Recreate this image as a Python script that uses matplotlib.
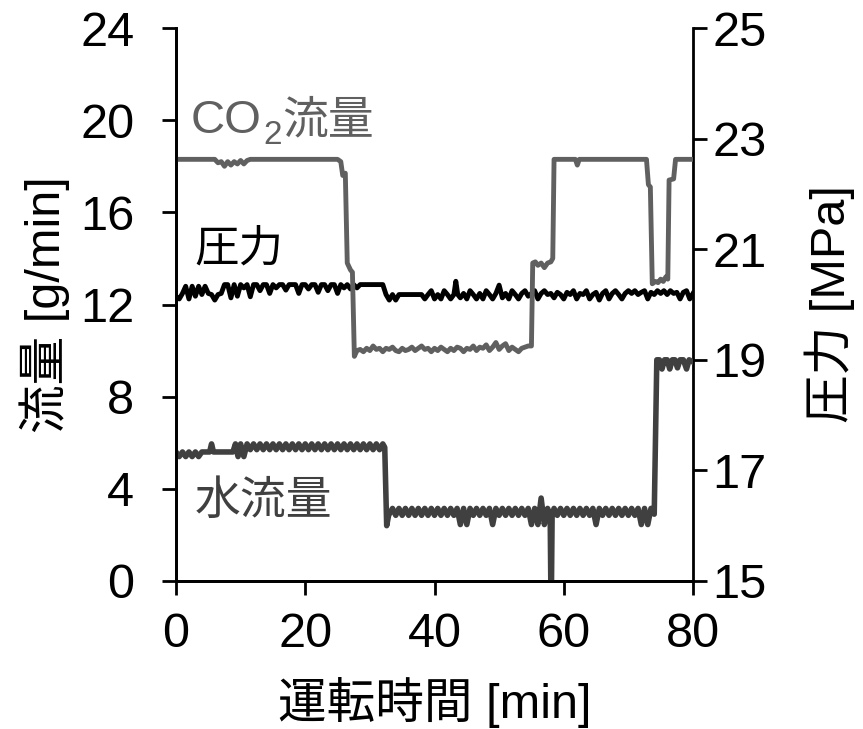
import numpy as np
import matplotlib
matplotlib.use("Agg")
import matplotlib.pyplot as plt

plt.rcParams['font.family'] = ['Liberation Sans', 'Noto Sans CJK JP']

# ---- data (time [min], value) ----
co2_points = [
    [0, 18.3], [6, 18.3], [6.5, 18.15], [7, 18.2], [7.5, 18.0], [8, 18.2], [8.5, 18.05],
    [9, 18.2], [9.5, 18.1], [10, 18.25], [10.5, 18.1], [11, 18.25], [11.5, 18.3],
    [25.0, 18.3], [25.5, 18.2], [25.8, 17.6], [26.2, 17.7], [26.5, 13.8], [27.0, 13.5],
    [27.3, 13.4], [27.6, 9.75],
    [28.0, 10.0], [28.5, 10.05], [29.0, 9.95], [29.5, 10.1], [30.0, 10.0], [30.5, 10.2],
    [31.0, 10.05], [31.5, 10.1], [32.0, 9.95], [32.5, 10.1], [33.0, 10.05], [33.5, 10.15],
    [34.0, 10.0], [34.5, 9.95], [35.0, 10.1], [35.5, 10.0], [36.0, 10.05], [36.5, 10.15],
    [37.0, 10.0], [37.5, 10.1], [38.0, 10.2], [38.5, 10.05], [39.0, 10.1], [39.5, 9.95],
    [40.0, 10.1], [40.5, 10.0], [41.0, 10.15], [41.5, 10.05], [42.0, 9.95], [42.5, 10.1],
    [43.0, 10.0], [43.5, 10.15], [44.0, 10.1], [44.5, 9.95], [45.0, 10.1], [45.5, 10.05],
    [46.0, 10.2], [46.5, 10.0], [47.0, 10.15], [47.5, 10.1], [48.0, 10.25], [48.5, 10.0],
    [49.0, 10.15], [49.5, 10.35], [50.0, 10.05], [50.5, 10.2], [51.0, 10.3], [51.5, 10.0],
    [52.0, 10.15], [52.5, 10.05], [53.0, 9.95], [53.5, 10.1], [54.0, 10.15], [54.5, 10.2],
    [55.0, 10.2], [55.2, 13.8], [55.6, 13.85], [56.0, 13.7], [56.5, 13.8], [57.0, 13.6],
    [57.5, 13.8], [58.0, 13.85], [58.3, 14.0], [58.5, 18.3], [61.8, 18.3], [62.1, 18.05],
    [62.4, 18.3], [72.8, 18.3], [73.1, 17.2], [73.4, 17.1], [73.7, 12.9], [74.2, 13.0],
    [74.6, 12.95], [75.0, 13.1], [75.4, 13.0], [75.8, 13.2], [76.1, 13.1], [76.3, 17.4],
    [77.0, 17.45], [77.3, 18.3], [80, 18.3],
]

water_points = [
    [0, 5.6], [0.5, 5.4], [1, 5.6], [1.5, 5.4], [2, 5.6], [2.5, 5.4], [3, 5.6], [3.5, 5.4],
    [4, 5.6], [5.2, 5.6], [5.5, 5.95], [5.8, 5.6], [8.8, 5.6], [9.2, 5.95], [9.6, 5.4],
    [10.0, 5.95], [10.5, 5.4], [11.0, 5.95], [11.5, 5.7], [12, 5.95], [12.5, 5.7],
    [13, 5.95], [13.5, 5.7], [14, 5.95], [14.5, 5.7], [15, 5.95], [15.5, 5.7], [16, 5.95],
    [16.5, 5.7], [17, 5.95], [17.5, 5.7], [18, 5.95], [18.5, 5.7], [19, 5.95], [19.5, 5.7],
    [20, 5.95], [20.5, 5.7], [21, 5.95], [21.5, 5.7], [22, 5.95], [22.5, 5.7], [23, 5.95],
    [23.5, 5.7], [24, 5.95], [24.5, 5.7], [25, 5.95], [25.5, 5.7], [26, 5.95], [26.5, 5.7],
    [27, 5.95], [27.5, 5.7], [28, 5.95], [28.5, 5.7], [29, 5.95], [29.5, 5.7], [30, 5.95],
    [30.5, 5.7], [31, 5.95], [31.5, 5.7], [32.0, 5.95], [32.3, 5.8], [32.6, 2.4],
    [32.9, 2.85], [33.5, 3.15], [34, 2.85], [34.5, 3.15], [35, 2.85], [35.5, 3.15],
    [36, 2.85], [36.5, 3.15], [37, 2.85], [37.5, 3.15], [38, 2.85], [38.5, 3.15],
    [39, 2.85], [39.5, 3.15], [40, 2.85], [40.5, 3.15], [41, 2.85], [41.5, 3.15],
    [42, 2.85], [42.5, 3.15], [43, 2.85], [43.5, 3.15], [44, 2.45], [44.5, 3.15],
    [45, 2.45], [45.5, 3.15], [46, 2.85], [46.5, 3.15], [47, 2.85], [47.5, 3.15],
    [48, 2.85], [48.5, 3.15], [49, 2.45], [49.5, 3.15], [50, 2.85], [50.5, 3.15],
    [51, 2.85], [51.5, 3.15], [52, 2.85], [52.5, 3.15], [53, 2.85], [53.5, 3.15],
    [54, 2.85], [54.5, 3.15], [55, 2.45], [55.5, 3.15], [56, 2.45], [56.5, 3.6],
    [57, 2.45], [57.5, 3.15], [57.9, 2.85], [58.0, -0.2], [58.1, -0.2], [58.2, 2.85],
    [58.5, 3.15], [59, 2.85], [59.5, 3.15], [60, 2.85], [60.5, 3.15], [61, 2.85],
    [61.5, 3.15], [62, 2.85], [62.5, 3.15], [63, 2.85], [63.5, 3.15], [64, 2.85],
    [64.5, 3.15], [65, 2.45], [65.5, 3.15], [66, 2.85], [66.5, 3.15], [67, 2.85],
    [67.5, 3.15], [68, 2.85], [68.5, 3.15], [69, 2.85], [69.5, 3.15], [70, 2.85],
    [70.5, 3.15], [71, 2.85], [71.5, 3.15], [72, 2.45], [72.5, 3.15], [73, 2.45],
    [73.5, 3.15], [74.0, 2.9], [74.4, 9.6], [74.8, 9.6], [75.2, 9.2], [75.6, 9.6],
    [76, 9.6], [76.4, 9.2], [76.8, 9.6], [77.2, 9.6], [77.6, 9.25], [78, 9.6],
    [78.5, 9.6], [79, 9.2], [79.4, 9.6], [80, 9.5],
]

pressure_points = [
    [0, 20.15], [0.5, 20.1], [1.0, 20.2], [1.5, 20.33], [2.0, 20.1], [2.5, 20.33],
    [3.0, 20.15], [3.5, 20.33], [4.0, 20.18], [4.5, 20.33], [5.0, 20.2], [5.5, 20.18],
    [6.0, 20.08], [6.5, 20.18], [7.0, 20.2], [7.5, 20.36], [8.0, 20.36], [8.5, 20.12],
    [9.0, 20.36], [9.5, 20.15], [10.0, 20.36], [10.5, 20.3], [11.0, 20.36], [11.5, 20.14],
    [12.0, 20.36], [12.5, 20.36], [13.0, 20.25], [13.5, 20.36], [14.0, 20.36], [14.5, 20.2],
    [15.0, 20.36], [15.5, 20.3], [16.0, 20.36], [16.5, 20.36], [17.0, 20.26], [17.5, 20.36],
    [18.0, 20.36], [18.5, 20.36], [19.0, 20.2], [19.5, 20.36], [20.0, 20.36], [20.5, 20.28],
    [21.0, 20.36], [21.5, 20.36], [22.0, 20.22], [22.5, 20.36], [23.0, 20.36], [23.5, 20.25],
    [24.0, 20.36], [24.5, 20.36], [25.0, 20.2], [25.5, 20.36], [26.0, 20.3], [26.5, 20.36],
    [27.0, 20.28], [27.5, 20.36], [28.0, 20.3], [28.5, 20.36], [32.0, 20.36], [32.5, 20.18],
    [33.0, 20.08], [33.5, 20.18], [34.0, 20.08], [34.5, 20.18], [38.0, 20.18], [38.5, 20.1],
    [39.0, 20.18], [39.5, 20.25], [40.0, 20.1], [40.5, 20.18], [41.0, 20.1], [41.5, 20.25],
    [42.0, 20.18], [42.5, 20.1], [43.0, 20.18], [43.3, 20.42], [43.6, 20.18], [44.0, 20.12],
    [44.5, 20.2], [45.0, 20.1], [45.5, 20.25], [46.0, 20.18], [46.5, 20.1], [47.0, 20.2],
    [47.5, 20.1], [48.0, 20.25], [48.5, 20.18], [49.0, 20.1], [49.5, 20.2], [50.0, 20.35],
    [50.5, 20.12], [51.0, 20.2], [51.5, 20.1], [52.0, 20.25], [52.5, 20.18], [53.0, 20.1],
    [53.5, 20.2], [54.0, 20.25], [54.5, 20.15], [55.0, 20.2], [55.5, 20.25], [56.0, 20.1],
    [56.5, 20.2], [57.0, 20.25], [57.5, 20.18], [58.0, 20.2], [58.5, 20.12], [59.0, 20.22],
    [59.5, 20.18], [60.0, 20.1], [60.5, 20.22], [61.0, 20.18], [61.5, 20.25], [62.0, 20.1],
    [62.5, 20.2], [63.0, 20.18], [63.5, 20.25], [64.0, 20.1], [64.5, 20.18], [65.0, 20.22],
    [65.5, 20.08], [66.0, 20.2], [66.5, 20.25], [67.0, 20.1], [67.5, 20.2], [68.0, 20.25],
    [68.5, 20.18], [69.0, 20.1], [69.5, 20.2], [70.0, 20.25], [70.5, 20.2], [71.0, 20.25],
    [71.5, 20.18], [72.0, 20.22], [72.5, 20.25], [73.0, 20.1], [73.5, 20.22], [74.0, 20.18],
    [74.5, 20.25], [75.0, 20.2], [75.5, 20.25], [76.0, 20.18], [76.5, 20.25], [77.0, 20.2],
    [77.5, 20.22], [78.0, 20.1], [78.5, 20.22], [79.0, 20.25], [79.5, 20.1], [80.0, 20.2],
]

flow_ticks = [0, 4, 8, 12, 16, 20, 24]
pressure_ticks = [15, 17, 19, 21, 23, 25]
time_ticks = [0, 20, 40, 60, 80]

co2_t, co2_v = np.array(co2_points).T
w_t, w_v = np.array(water_points).T
p_t, p_v = np.array(pressure_points).T

# ---- figure ----
W, H = 863, 729
fig = plt.figure(figsize=(W / 100, H / 100), dpi=100)
ax = fig.add_axes([176 / W, 1 - 581 / H, (693 - 176) / W, (581 - 28) / H])
ax2 = ax.twinx()
ax.set_zorder(ax2.get_zorder() + 1)
ax.patch.set_visible(False)

ax2.plot(p_t, p_v, color='black', lw=3.5, solid_joinstyle='round')
ax.plot(co2_t, co2_v, color='#606060', lw=3.5, solid_joinstyle='round')
ax.plot(w_t, w_v, color='#404040', lw=4.0, solid_joinstyle='round')

ax.set_xlim(0, 80)
ax.set_ylim(0, 24)
ax2.set_ylim(15, 25)
ax.set_xticks(time_ticks)
ax.set_yticks(flow_ticks)
ax2.set_yticks(pressure_ticks)

for a in (ax, ax2):
    a.spines['top'].set_visible(False)
    for s in a.spines.values():
        s.set_linewidth(2.0)
ax.spines['right'].set_visible(False)

ax.tick_params(axis='both', direction='out', length=10, width=2, labelsize=35)
ax.tick_params(axis='y', pad=20)
ax.tick_params(axis='x', pad=12)
ax2.tick_params(axis='y', direction='out', length=10, width=2, labelsize=35, pad=4)

ax.set_xlabel('運転時間 [min]', fontsize=35)
ax.set_ylabel('流量 [g/min]', fontsize=35)
ax2.set_ylabel('圧力 [MPa]', fontsize=35, rotation=90)
ax.xaxis.label.set_va('center')
ax.yaxis.label.set_va('center')
ax2.yaxis.label.set_va('center')
ax.xaxis.set_label_coords(0.5, (581 - 702) / 553)
ax.yaxis.set_label_coords((45 - 176) / 517, 0.5)
ax2.yaxis.set_label_coords((830 - 176) / 517, 0.5)

# annotations
ax.text(2.2, 19.95, 'CO', fontsize=34, color='#606060', va='center', ha='left')
ax.text(13.5, 19.35, '2', fontsize=24, color='#606060', va='center', ha='left')
ax.text(16.5, 19.95, '流量', fontsize=33, color='#606060', va='center', ha='left')
ax.text(2.9, 14.35, '圧力', fontsize=32, color='black', va='center', ha='left')
ax.text(2.9, 3.45, '水流量', fontsize=33, color='#404040', va='center', ha='left')

fig.savefig('out.png', dpi=100)
